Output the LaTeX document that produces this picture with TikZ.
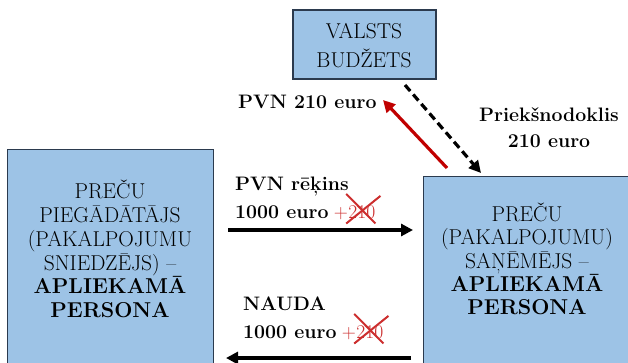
\documentclass[tikz,border=0pt]{standalone}
\usetikzlibrary{arrows.meta}
\definecolor{boxfill}{HTML}{9DC3E6}
\definecolor{boxline}{HTML}{2B3A4E}
\definecolor{redarr}{HTML}{C00000}
\definecolor{redtxt}{HTML}{CC2E2E}
\begin{document}
\begin{tikzpicture}[x=1pt,y=-1pt,
  box/.style={draw=boxline, line width=1.3pt, fill=boxfill, inner sep=0pt},
  boxtext/.style={align=center, inner sep=0pt},
  lbl/.style={font=\fontsize{19.5}{26}\selectfont\bfseries, inner sep=0pt},
  plus/.style={font=\fontsize{19.5}{26}\selectfont, text=redtxt, inner sep=0pt},
  cross/.style={draw=redtxt, line width=2pt},
  arr/.style={line width=3.2pt, -{Triangle[length=12pt,width=12pt]}},
  redarrow/.style={arr, draw=redarr, -{Triangle[length=12pt,width=12pt,fill=redarr]}},
  dasharrow/.style={arr, dash pattern=on 8pt off 4.5pt}
]
\useasboundingbox (0,0) rectangle (628,362);

% boxes
\node[box, minimum width=143pt, minimum height=69pt] (V) at (364.5,44.5) {};
\node[boxtext, font=\fontsize{21.5}{29}\selectfont] (Vt) at (364,46) {VALSTS\\BUDŽETS};

\node[box, minimum width=206pt, minimum height=220pt, anchor=north west] (L) at (7,149) {};
\node[boxtext, font=\fontsize{21.5}{23.8}\selectfont] (Lt) at (110,249)
  {PREČU\\PIEGĀDĀTĀJS\\(PAKALPOJUMU\\SNIEDZĒJS) –\\\textbf{APLIEKAMĀ}\\\textbf{PERSONA}};

\node[box, minimum width=208pt, minimum height=195pt, anchor=north west] (R) at (423,176) {};
\node[boxtext, font=\fontsize{21.5}{23.3}\selectfont] (Rt) at (527,259)
  {PREČU\\(PAKALPOJUMU)\\SAŅĒMĒJS –\\\textbf{APLIEKAMĀ}\\\textbf{PERSONA}};

% labels
\node[lbl, anchor=base west] (pvnr) at (235,190) {PVN rēķins};
\node[lbl, anchor=base west] (e1) at (235,218) {1000 euro};
\node[plus, anchor=base west] (p1) at ([xshift=5pt]e1.base east) {+};
\node[plus, anchor=base west] (x1) at (p1.base east) {210};
\draw[cross] ([xshift=-2pt,yshift=-5pt]x1.south west) -- ([xshift=5pt,yshift=9pt]x1.north east);
\draw[cross] ([xshift=0pt,yshift=-5pt]x1.south east) -- ([xshift=-2pt,yshift=11pt]x1.north west);

\node[lbl, anchor=base west] (nauda) at (243,310) {NAUDA};
\node[lbl, anchor=base west] (e2) at (243,338) {1000 euro};
\node[plus, anchor=base west] (p2) at ([xshift=5pt]e2.base east) {+};
\node[plus, anchor=base west] (x2) at (p2.base east) {210};
\draw[cross] ([xshift=-2pt,yshift=-5pt]x2.south west) -- ([xshift=5pt,yshift=9pt]x2.north east);
\draw[cross] ([xshift=0pt,yshift=-5pt]x2.south east) -- ([xshift=-2pt,yshift=11pt]x2.north west);

\node[lbl, anchor=base west] (pvn) at (238,108) {PVN 210 euro};
\node[lbl, align=center] (pr) at (549,128) {Priekšnodoklis\\210 euro};

% connector end points
\coordinate (a1s) at (228,230);
\coordinate (a1e) at (413,230);
\coordinate (a2s) at (411,358);
\coordinate (a2e) at (226,358);
\coordinate (rs) at (447,168);
\coordinate (re) at (383,100);
\coordinate (ds) at (405,85);
\coordinate (de) at (481,173);

\draw[arr] (a1s) -- (a1e);
\draw[arr] (a2s) -- (a2e);
\draw[redarrow] (rs) -- (re);
\draw[dasharrow] (ds) -- (de);
\end{tikzpicture}
\end{document}
